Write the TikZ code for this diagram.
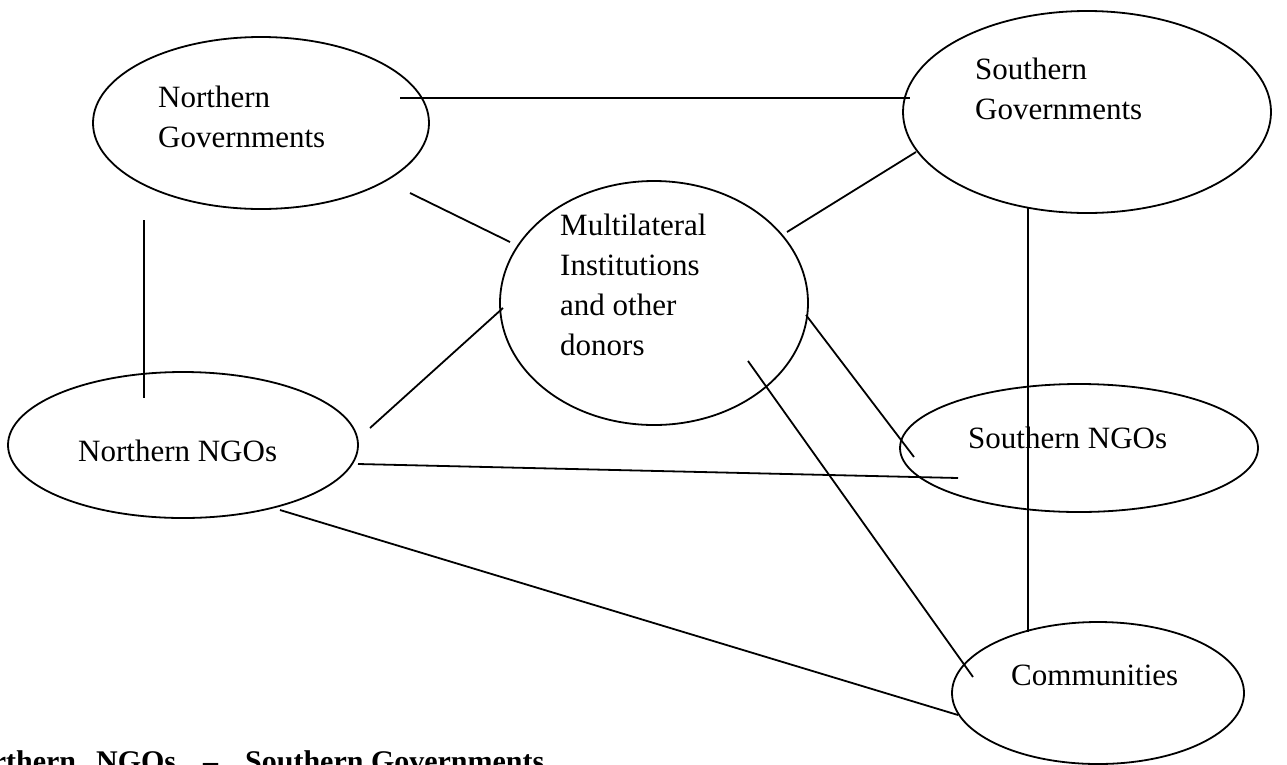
\documentclass[tikz,border=0pt]{standalone}
\usepackage{fontspec}
\setmainfont{Liberation Serif}
\usetikzlibrary{shapes.geometric}
\begin{document}
\begin{tikzpicture}[x=1pt,y=-1pt,
  oval/.style={draw, ellipse, line width=1.8pt, inner sep=0pt},
  lbl/.style={anchor=base west, inner sep=0pt, align=left, font=\fontsize{31}{40}\selectfont},
  link/.style={line width=1.8pt}]
\useasboundingbox (0,0) rectangle (1287,764);
% ellipses
\node[oval, minimum width=336pt, minimum height=172pt] (ng) at (261,123) {};
\node[oval, minimum width=368pt, minimum height=202pt] (sg) at (1087,112) {};
\node[oval, minimum width=308pt, minimum height=244pt] (ml) at (654,303) {};
\node[oval, minimum width=350pt, minimum height=146pt] (nn) at (183,445) {};
\node[oval, minimum width=358pt, minimum height=128pt] (sn) at (1079,448) {};
\node[oval, minimum width=292pt, minimum height=142pt] (cm) at (1098,693) {};
% texts (anchored at the baseline of the last line)
\node[lbl] (ngt) at (158,147) {Northern\\Governments};
\node[lbl] (sgt) at (975,119) {Southern\\Governments};
\node[lbl] (mlt) at (560,355) {Multilateral\\Institutions\\and other\\donors};
\node[lbl] (nnt) at (78,461) {Northern NGOs};
\node[lbl] (snt) at (968,448) {Southern NGOs};
\node[lbl] (cmt) at (1011,685) {Communities};
\node[anchor=base west, inner sep=0pt, font=\fontsize{30}{38}\selectfont\bfseries] (head) at (-44,771) {Northern\hspace{20pt}NGOs\hspace{27pt}–\hspace{27pt}Southern Governments};
% connector end points
\coordinate (a1) at (400,98);   \coordinate (b1) at (910,98);
\coordinate (a2) at (410,193);  \coordinate (b2) at (510,242);
\coordinate (a3) at (916,152);  \coordinate (b3) at (787,232);
\coordinate (a4) at (144,220);  \coordinate (b4) at (144,398);
\coordinate (a5) at (370,428);  \coordinate (b5) at (503,308);
\coordinate (a6) at (806,315);  \coordinate (b6) at (914,457);
\coordinate (a7) at (358,464);  \coordinate (b7) at (958,478);
\coordinate (a8) at (280,510);  \coordinate (b8) at (958,715);
\coordinate (a9) at (748,361);  \coordinate (b9) at (973,677);
\coordinate (a10) at (1028,207); \coordinate (b10) at (1028,632);
% connectors
\draw[link] (a1) -- (b1);
\draw[link] (a2) -- (b2);
\draw[link] (a3) -- (b3);
\draw[link] (a4) -- (b4);
\draw[link] (a5) -- (b5);
\draw[link] (a6) -- (b6);
\draw[link] (a7) -- (b7);
\draw[link] (a8) -- (b8);
\draw[link] (a9) -- (b9);
\draw[link] (a10) -- (b10);
\end{tikzpicture}
\end{document}
